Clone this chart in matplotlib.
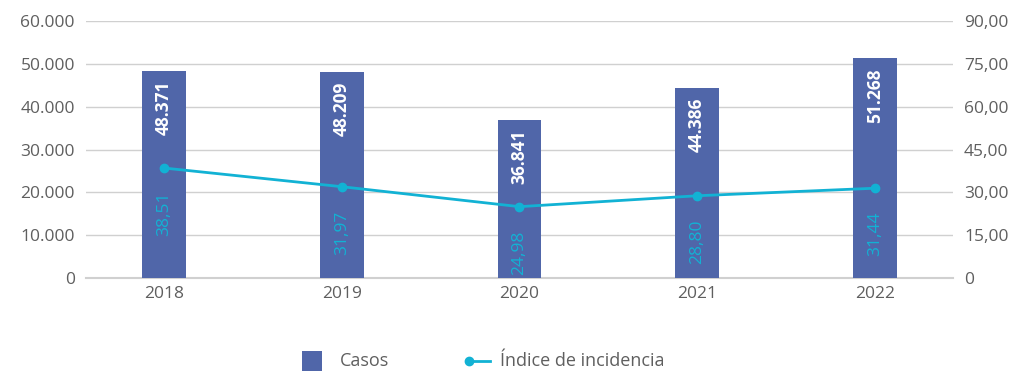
import matplotlib.pyplot as plt
from matplotlib.lines import Line2D
from matplotlib.patches import Rectangle

years = ["2018", "2019", "2020", "2021", "2022"]
casos = [48371, 48209, 36841, 44386, 51268]
incidencia = [38.51, 31.97, 24.98, 28.80, 31.44]

bar_color = "#5066A9"
line_color = "#12B2D4"
text_color = "#5F5F5F"
grid_color = "#D0D0D0"

plt.rcParams["font.family"] = ["Open Sans", "DejaVu Sans"]

W, H = 1019, 372
fig = plt.figure(figsize=(W / 100, H / 100), dpi=100)
ax = fig.add_axes([86 / W, 1 - 278 / H, (953 - 86) / W, (278 - 21) / H])
ax2 = ax.twinx()

x = list(range(len(years)))
ax.bar(x, casos, width=0.245, color=bar_color, zorder=2)
ax.set_xlim(-0.44, 4.44)
ax.set_ylim(0, 60000)
ax.set_yticks(range(0, 60001, 10000))
ax.set_yticklabels([f"{v:,}".replace(",", ".") for v in range(0, 60001, 10000)])
ax.set_xticks(x)
ax.set_xticklabels(years)
ax.yaxis.grid(True, color=grid_color, linewidth=1)
ax.axhline(0, color=grid_color, linewidth=1.5, zorder=1, clip_on=False)
ax.set_axisbelow(True)

ax2.plot(x, incidencia, color=line_color, linewidth=2, marker="o", markersize=6, zorder=3)
ax2.set_ylim(0, 90)
ax2.set_yticks([0, 15, 30, 45, 60, 75, 90])
ax2.set_yticklabels(["0"] + [f"{v:.2f}".replace(".", ",") for v in [15, 30, 45, 60, 75, 90]])

for a in (ax, ax2):
    for s in a.spines.values():
        s.set_visible(False)
    a.tick_params(length=0, labelsize=12.5, colors=text_color)
ax.tick_params(axis="y", pad=8)
ax2.tick_params(axis="y", pad=8)
ax.tick_params(axis="x", pad=6)

for xi, v in zip(x, casos):
    ax.annotate(f"{v:,}".replace(",", "."), (xi, v), xytext=(0, -7),
                textcoords="offset points", rotation=90, ha="center", va="top",
                color="white", fontweight="bold", fontsize=12.5)

for xi, v in zip(x, incidencia):
    ax2.annotate(f"{v:.2f}".replace(".", ","), (xi, v), xytext=(0, -17),
                 textcoords="offset points", rotation=90, ha="center", va="top",
                 color=line_color, fontsize=12.5)

# Legend drawn below the plot: square swatch for bars, short line with dot for the index
def fx(px):
    return px / W

def fy(py):
    return 1 - py / H

fig.add_artist(Rectangle((fx(302), fy(371)), 20 / W, 20 / H, transform=fig.transFigure,
                         facecolor=bar_color, edgecolor="none"))
fig.text(fx(340), fy(361), "Casos", color=text_color, fontsize=13, va="center", ha="left")
fig.add_artist(Line2D([fx(469), fx(490)], [fy(361), fy(361)], transform=fig.transFigure,
                      color=line_color, linewidth=2))
fig.add_artist(Line2D([fx(469)], [fy(361)], transform=fig.transFigure, color=line_color,
                      marker="o", markersize=6, linestyle="none"))
fig.text(fx(500), fy(361), "Índice de incidencia", color=text_color, fontsize=13,
         va="center", ha="left")

fig.savefig("out.png", dpi=100)
